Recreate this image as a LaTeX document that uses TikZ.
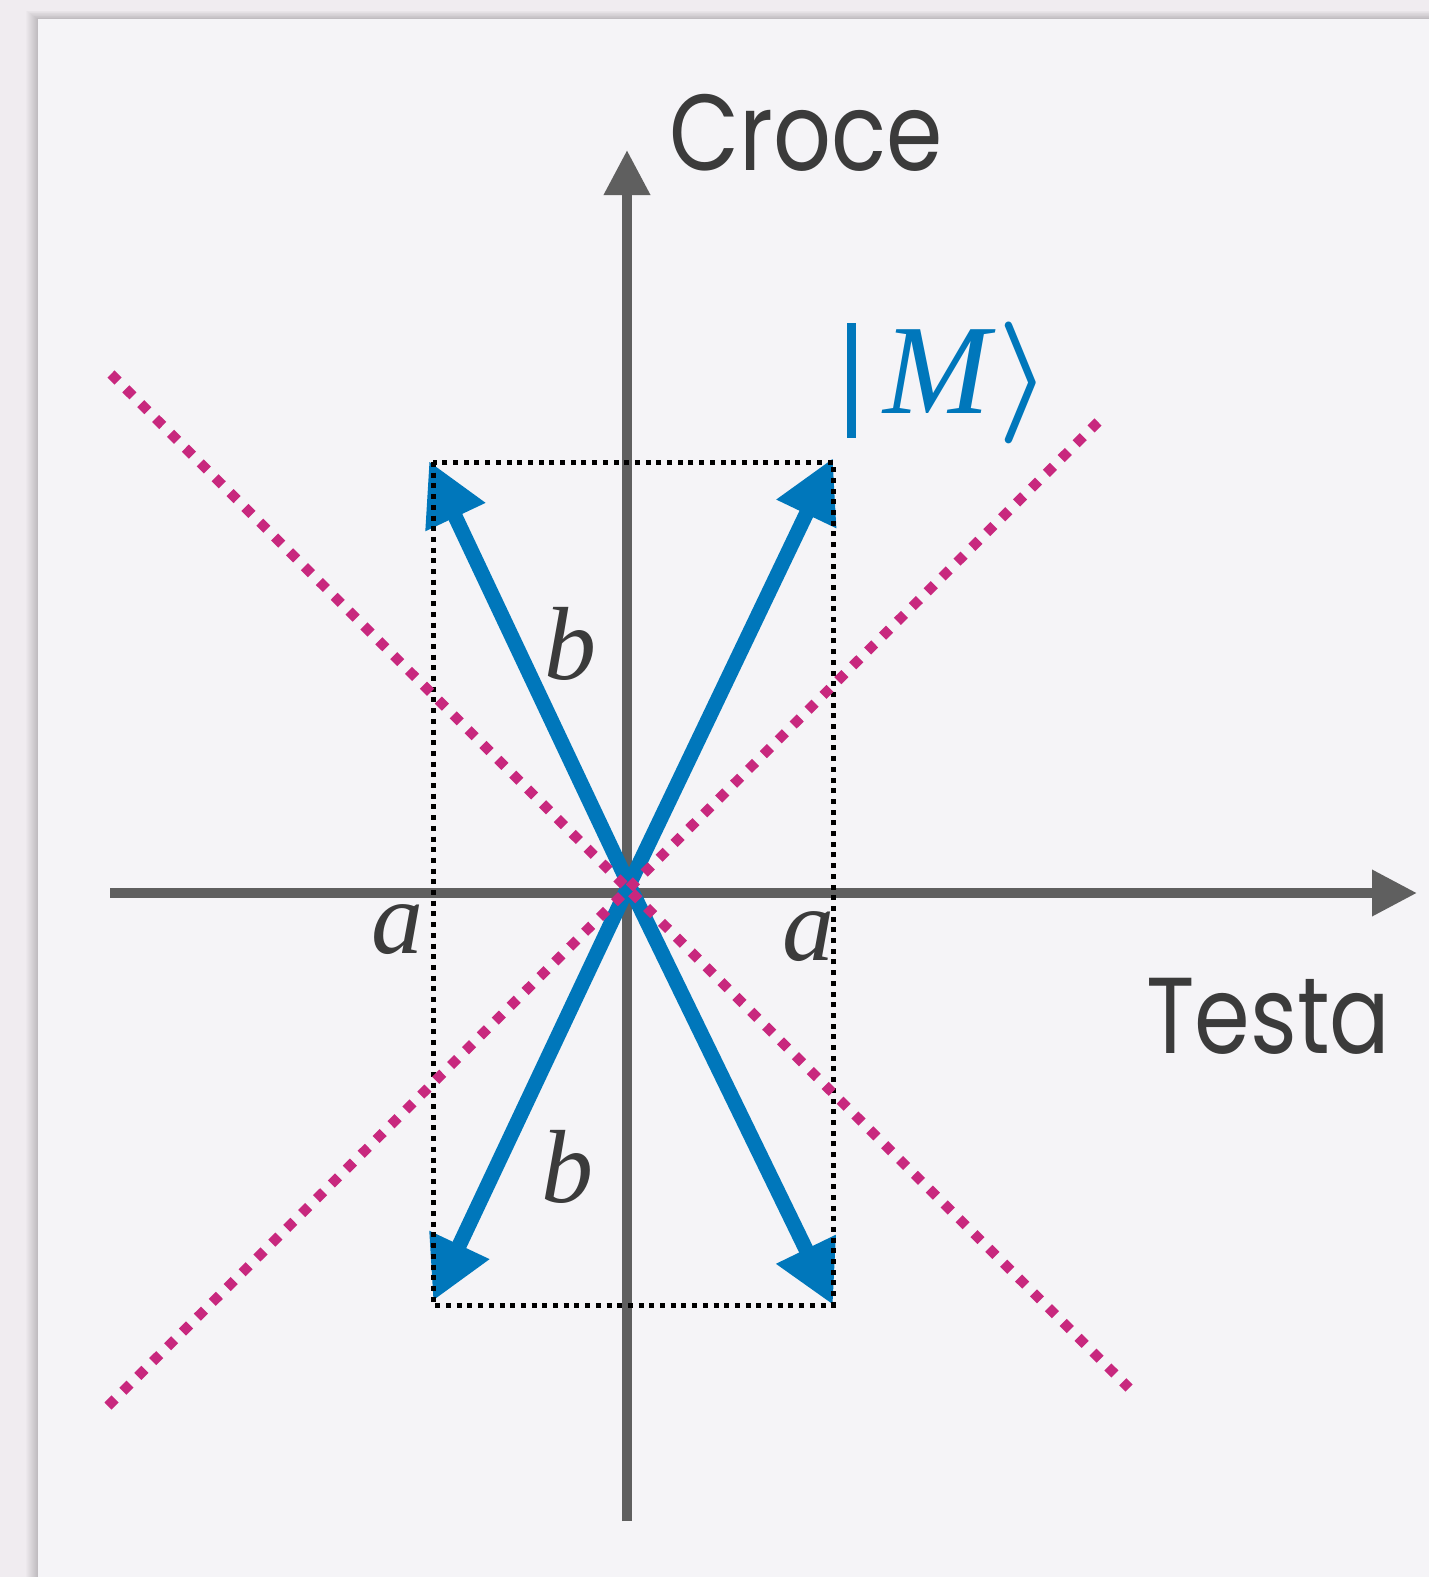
\documentclass[tikz,border=0pt]{standalone}
\usepackage{fontspec}
\usepackage{graphicx}
\usetikzlibrary{arrows.meta}
\newfontfamily\popp{Poppins}
\newfontfamily\tms{Liberation Serif}
\definecolor{outerbg}{HTML}{F0ECF0}
\definecolor{pagebg}{HTML}{F5F4F7}
\definecolor{axisgray}{HTML}{5F5F5F}
\definecolor{txt}{HTML}{3B3B3B}
\definecolor{mblue}{HTML}{0077BB}
\definecolor{mag}{HTML}{C8287E}
\tikzset{
  axis/.style={line width=10pt, draw=axisgray, -{Triangle[length=45pt,width=44pt]}},
  vec/.style={line width=15pt, draw=mblue, -{Triangle[length=62pt,width=62pt]}},
  dotbox/.style={line width=5pt, draw=black, dash pattern=on 5pt off 5.7pt},
  magline/.style={line width=10pt, draw=mag, dash pattern=on 10pt off 11pt},
  lbl/.style={font=\tms\itshape\fontsize{104}{104}\selectfont, text=txt, inner sep=0pt, anchor=base},
  axlbl/.style={font=\popp\fontsize{108}{108}\selectfont, text=txt, inner sep=0pt, anchor=base west}
}
\begin{document}
\begin{tikzpicture}[x=1pt,y=-1pt]
\useasboundingbox (0,0) rectangle (1429,1577);
\fill[outerbg] (0,0) rectangle (1429,1577);
\foreach \i in {1,...,12} \fill[black,opacity=0.016] ({38-\i},{19-0.7*\i}) rectangle (1429,1577);
\fill[pagebg] (38,19) rectangle (1429,1577);
% coordinates
\coordinate (XL) at (110,893);
\coordinate (XR) at (1417,893);
\coordinate (YB) at (627,1521);
\coordinate (YT) at (627,150);
\coordinate (O) at (629,885);
\coordinate (TL) at (429,461);
\coordinate (TR) at (833,458);
\coordinate (BL) at (433,1301);
\coordinate (BR) at (833,1305);
\coordinate (R1) at (433,462);
\coordinate (R2) at (833,1305);
\coordinate (M1a) at (111,374);
\coordinate (M1b) at (1129,1388);
\coordinate (M2a) at (108,1406);
\coordinate (M2b) at (1098,422);
% axes
\draw[axis] (XL) -- (XR);
\draw[axis] (YB) -- (YT);
% labels
\node[axlbl] (croce) at (669,170) {\scalebox{0.84}[1]{Croce}};
\node[axlbl] (testa) at (1146,1053) {\scalebox{0.83}[1]{Testa}};
\node[lbl] (b1) at (570,679) {b};
\node[lbl] (b2) at (567,1202) {b};
\node[lbl] (a1) at (397,953) {a};
\node[lbl] (a2) at (808,960) {a};
\node[inner sep=0pt, anchor=base west, text=mblue] (ket) at (847,413)
  {\rule[-25pt]{9pt}{115pt}\hspace{27pt}{\tms\itshape\fontsize{128}{128}\selectfont M}\hspace{8pt}\resizebox*{54pt}{122pt}{\boldmath$\rangle$}};
% vectors
\draw[vec] (O) -- (TL);
\draw[vec] (O) -- (TR);
\draw[vec] (O) -- (BL);
\draw[vec] (O) -- (BR);
% dotted box
\draw[dotbox] (R1) rectangle (R2);
% magenta lines
\draw[magline] (M1a) -- (M1b);
\draw[magline] (M2a) -- (M2b);
\end{tikzpicture}
\end{document}
